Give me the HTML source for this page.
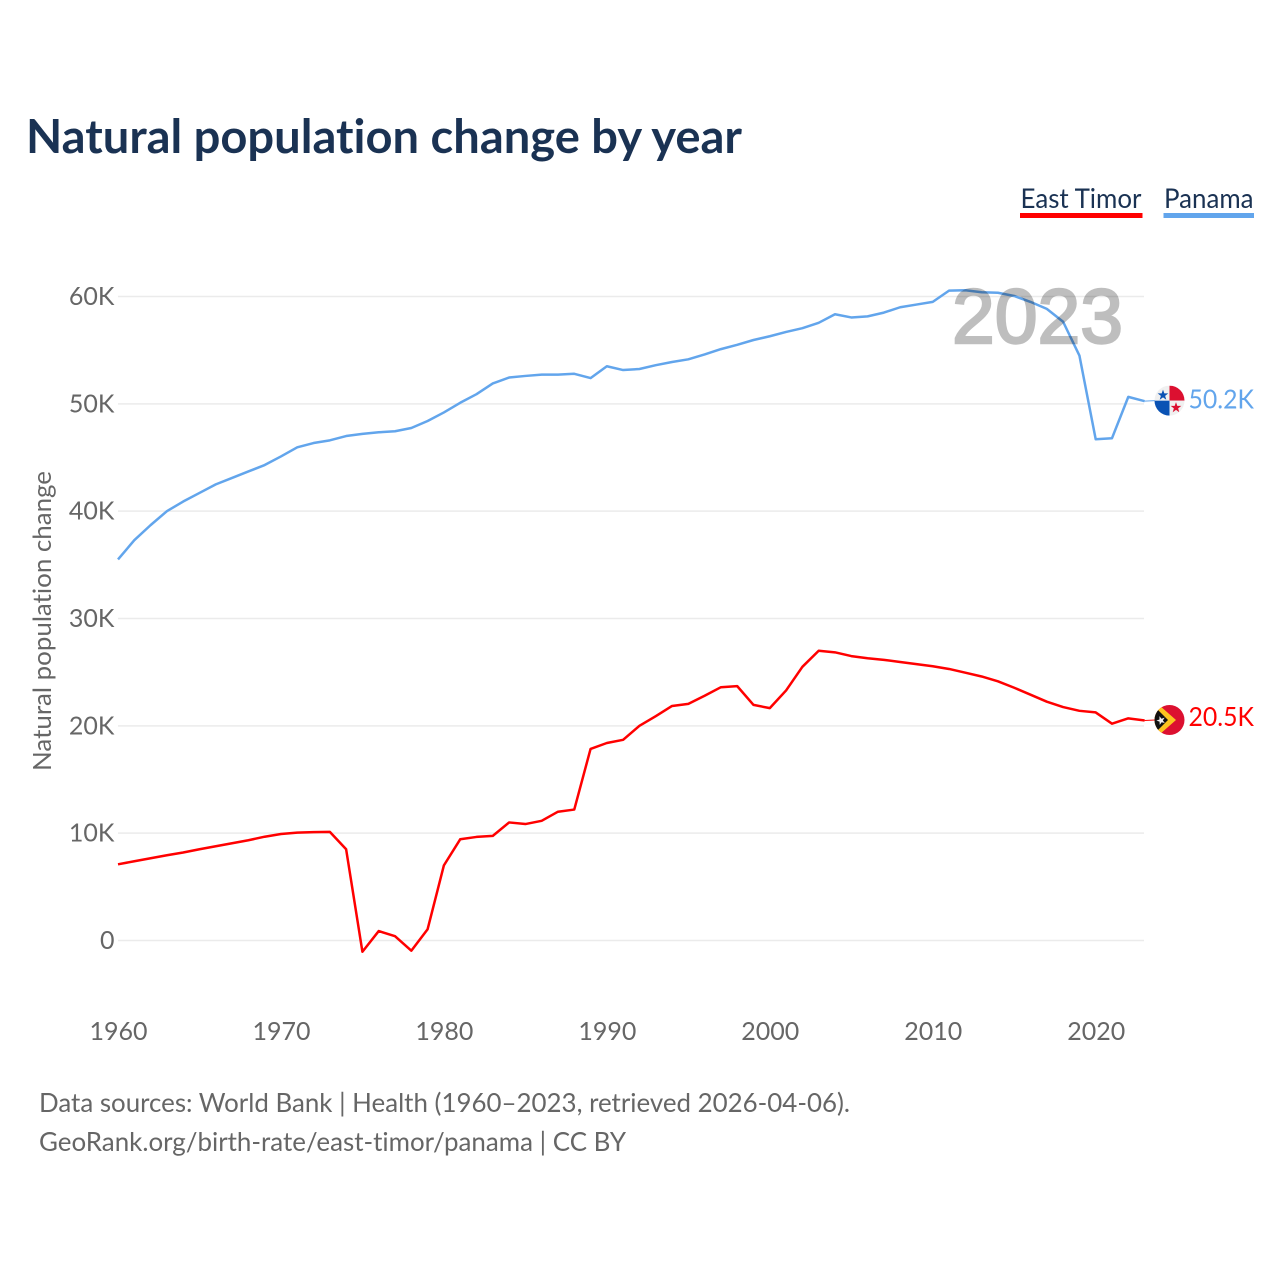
<!DOCTYPE html>
<html lang="en">
<head>
<meta charset="utf-8">
<title>Natural population change by year</title>
<style>
html,body{margin:0;padding:0;background:#fff;width:1280px;height:1280px;overflow:hidden}
svg{display:block}
text{font-family:"Lato","Carlito","Liberation Sans",sans-serif;font-variant-ligatures:none;font-feature-settings:"liga" 0,"clig" 0}
</style>
</head>
<body>
<svg id="chart" xmlns="http://www.w3.org/2000/svg" width="1280" height="1280" viewBox="0 0 1280 1280">
  <rect x="0" y="0" width="1280" height="1280" fill="#fff"/>
  <text x="26" y="153" font-size="47" font-weight="700" fill="#1a3253" textLength="716" lengthAdjust="spacingAndGlyphs">Natural population change by year</text>

  <g>
    <g>
      <text x="1020.5" y="208" font-size="27" fill="#1a3253" textLength="121" lengthAdjust="spacingAndGlyphs">East Timor</text>
      <rect x="1020" y="213" width="122.5" height="5" fill="#ff0000"/>
    </g>
    <g>
      <text x="1164" y="208" font-size="27" fill="#1a3253" textLength="89.5" lengthAdjust="spacingAndGlyphs">Panama</text>
      <rect x="1163.5" y="213" width="90.5" height="5" fill="#62a5ec"/>
    </g>
  </g>

  <g id="grid"></g>
  <g id="y-ticks"></g>
  <g id="x-ticks"></g>
  <text transform="translate(51,621) rotate(-90)" text-anchor="middle" font-size="25" fill="#666" textLength="300" lengthAdjust="spacingAndGlyphs">Natural population change</text>

  <g id="series"></g>

  <g opacity="0.25">
    <text x="952" y="343" font-size="77" font-weight="400" fill="#000" stroke="#000" stroke-width="2.4" style="font-family:'Liberation Sans',sans-serif" textLength="171" lengthAdjust="spacingAndGlyphs">2023</text>
  </g>

  <g id="end-labels"></g>

  <defs>
    <clipPath id="clip-panama"><circle cx="0" cy="0" r="15"/></clipPath>
    <clipPath id="clip-timor"><circle cx="0" cy="0" r="15"/></clipPath>
  </defs>
  <g id="flag-panama" clip-path="url(#clip-panama)">
    <rect x="-15" y="-15" width="15" height="15" fill="#f0f0f0"/>
    <rect x="0" y="-15" width="15" height="15" fill="#dc1030"/>
    <rect x="-15" y="0" width="15" height="15" fill="#0a52b4"/>
    <rect x="0" y="0" width="15" height="15" fill="#f0f0f0"/>
    <polygon transform="translate(-6.5,-5.5) scale(5.6)" points="0,-1 0.235,-0.324 0.951,-0.309 0.38,0.124 0.588,0.809 0,0.4 -0.588,0.809 -0.38,0.124 -0.951,-0.309 -0.235,-0.324" fill="#0a52b4"/>
    <polygon transform="translate(6.5,7) scale(5.6)" points="0,-1 0.235,-0.324 0.951,-0.309 0.38,0.124 0.588,0.809 0,0.4 -0.588,0.809 -0.38,0.124 -0.951,-0.309 -0.235,-0.324" fill="#dc1030"/>
  </g>
  <g id="flag-timor" clip-path="url(#clip-timor)">
    <rect x="-15" y="-15" width="30" height="30" fill="#dc1030"/>
    <polygon points="-16,-19.8 6.5,0 -16,19.8" fill="#fcc420"/>
    <polygon points="-16,-14.5 -1.5,0 -16,14.5" fill="#111"/>
    <polygon transform="translate(-8.5,0.5) rotate(-20) scale(4.6)" points="0,-1 0.235,-0.324 0.951,-0.309 0.38,0.124 0.588,0.809 0,0.4 -0.588,0.809 -0.38,0.124 -0.951,-0.309 -0.235,-0.324" fill="#f2f2f2"/>
  </g>

  <text x="39" y="1112" font-size="26" fill="#666" textLength="811" lengthAdjust="spacingAndGlyphs">Data sources: World Bank | Health (1960–2023, retrieved 2026-04-06).</text>
  <text x="39" y="1151" font-size="26" fill="#666" textLength="587" lengthAdjust="spacingAndGlyphs">GeoRank.org/birth-rate/east-timor/panama | CC BY</text>
</svg>
<script>
var startYear = 1960;
var endYear = 2023;
var xTickYears = [1960, 1970, 1980, 1990, 2000, 2010, 2020];
var yTickValues = [0, 10, 20, 30, 40, 50, 60];
var yTickLabels = ['0', '10K', '20K', '30K', '40K', '50K', '60K'];
var eastTimorValues = [7.1,7.38,7.66,7.94,8.2,8.5,8.78,9.06,9.34,9.67,9.92,10.05,10.1,10.12,8.5,-1.05,0.88,0.4,-0.95,1.05,7.0,9.43,9.65,9.75,11.0,10.85,11.15,12.0,12.2,17.85,18.4,18.7,20.0,20.9,21.85,22.05,22.8,23.6,23.7,21.95,21.65,23.3,25.5,27.0,26.85,26.5,26.3,26.15,25.95,25.75,25.55,25.3,24.95,24.6,24.15,23.55,22.9,22.25,21.75,21.4,21.25,20.2,20.7,20.5];
var panamaValues = [35.5,37.3,38.7,40.0,40.9,41.7,42.5,43.1,43.7,44.3,45.1,45.95,46.35,46.6,47.0,47.2,47.35,47.45,47.75,48.4,49.2,50.1,50.9,51.9,52.45,52.6,52.72,52.72,52.8,52.4,53.5,53.15,53.25,53.6,53.9,54.15,54.6,55.1,55.5,55.95,56.3,56.7,57.05,57.55,58.35,58.05,58.15,58.5,59.0,59.25,59.5,60.55,60.58,60.4,60.35,60.05,59.5,58.85,57.65,54.5,46.7,46.8,50.65,50.25];
var eastTimorEndLabel = '20.5K';
var panamaEndLabel = '50.2K';

var SVG_NS = 'http://www.w3.org/2000/svg';
var X_LEFT = 118, PX_PER_YEAR = 16.295;
var Y_ZERO = 940.5, PX_PER_K = 10.733;
var GRID_RIGHT = 1144;
var FLAG_X = 1169.5;

function xScale(year) { return X_LEFT + (year - startYear) * PX_PER_YEAR; }
function yScale(k) { return Y_ZERO - k * PX_PER_K; }
function make(tag, attrs, parent) {
  var el = document.createElementNS(SVG_NS, tag);
  for (var key in attrs) el.setAttribute(key, attrs[key]);
  parent.appendChild(el);
  return el;
}

var gridGroup = document.getElementById('grid');
var yTickGroup = document.getElementById('y-ticks');
yTickValues.forEach(function (v, i) {
  var line = make('line', { x1: X_LEFT, x2: GRID_RIGHT, y1: yScale(v), y2: yScale(v), stroke: '#ebebeb', 'stroke-width': 1.5 }, gridGroup);
  
  
  var label = make('text', { x: 114.5, y: yScale(v) + 8.5, 'text-anchor': 'end', 'font-size': 25, fill: '#666' }, yTickGroup);
  
  
  label.textContent = yTickLabels[i];
});

var xTickGroup = document.getElementById('x-ticks');
xTickYears.forEach(function (year) {
  var label = make('text', { x: xScale(year) + 0.5, y: 1040, 'text-anchor': 'middle', 'font-size': 25, fill: '#666' }, xTickGroup);
  
  
  label.textContent = year;
});

function pointsFor(values) {
  return values.map(function (v, i) {
    return xScale(startYear + i).toFixed(2) + ',' + yScale(v).toFixed(2);
  }).join(' ');
}

var seriesGroup = document.getElementById('series');
var timorLine = make('polyline', { points: pointsFor(eastTimorValues), fill: 'none', stroke: '#ff0000', 'stroke-width': 2.5, 'stroke-linejoin': 'round' }, seriesGroup);


var panamaLine = make('polyline', { points: pointsFor(panamaValues), fill: 'none', stroke: '#62a5ec', 'stroke-width': 2.5, 'stroke-linejoin': 'round' }, seriesGroup);



function lastOf(values) { return values[values.length - 1]; }

var endGroup = document.getElementById('end-labels');
var timorEndY = yScale(lastOf(eastTimorValues));
var panamaEndY = yScale(lastOf(panamaValues));

var timorConnector = make('line', { x1: xScale(endYear), x2: 1155, y1: timorEndY, y2: timorEndY - 0.5, stroke: '#ff0000', 'stroke-width': 1 }, endGroup);


var panamaConnector = make('line', { x1: xScale(endYear), x2: 1155, y1: panamaEndY, y2: panamaEndY - 0.5, stroke: '#62a5ec', 'stroke-width': 1 }, endGroup);



var timorLabel = make('text', { x: 1188.5, y: timorEndY + 5.5, 'font-size': 26, fill: '#ff0000', textLength: 65.5, lengthAdjust: 'spacingAndGlyphs' }, endGroup);


timorLabel.textContent = eastTimorEndLabel;
var panamaLabel = make('text', { x: 1188.5, y: panamaEndY + 7.5, 'font-size': 26, fill: '#62a5ec', textLength: 65.5, lengthAdjust: 'spacingAndGlyphs' }, endGroup);


panamaLabel.textContent = panamaEndLabel;

document.getElementById('flag-panama').setAttribute('transform', 'translate(' + FLAG_X + ',' + (panamaEndY - 0.5) + ')');
document.getElementById('flag-timor').setAttribute('transform', 'translate(' + FLAG_X + ',' + (timorEndY - 0.5) + ')');
</script>
</body>
</html>
